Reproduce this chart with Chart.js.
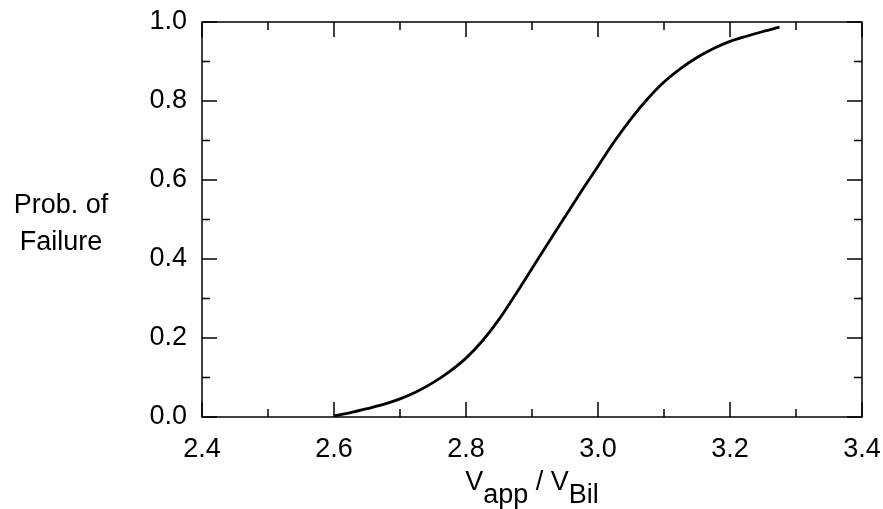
<!DOCTYPE html>
<html>
<head>
<meta charset="utf-8">
<script src="https://cdn.jsdelivr.net/npm/chart.js@4.4.1/dist/chart.umd.min.js"></script>
<style>
  html, body { margin: 0; padding: 0; background: #fff; }
  #wrap { width: 883px; height: 509px; position: relative; }
</style>
</head>
<body>
<div id="wrap"><canvas id="probChart"></canvas></div>
<script>
// curve: V_app / V_Bil vs probability of failure
const ratioX = [2.600, 2.625, 2.650, 2.675, 2.700, 2.725, 2.750, 2.775, 2.800, 2.825, 2.850, 2.875, 2.900, 2.925, 2.950, 2.975,
                3.000, 3.025, 3.050, 3.075, 3.100, 3.125, 3.150, 3.175, 3.200, 3.225, 3.250, 3.275];
const probY  = [0.003, 0.011, 0.021, 0.032, 0.046, 0.064, 0.087, 0.115, 0.149, 0.193, 0.247, 0.310, 0.376, 0.442, 0.507, 0.572,
                0.635, 0.698, 0.755, 0.805, 0.848, 0.882, 0.910, 0.933, 0.951, 0.964, 0.976, 0.987];

const xRange = [2.4, 3.4];
const yRange = [0.0, 1.0];
const yTitleLines = ['Prob. of', 'Failure'];
const FONT = '"Liberation Sans", Arial, Helvetica, sans-serif';
const FSIZE = 27;

// frame, inward ticks on all four sides, and the axis titles
const framePlugin = {
    id: 'frame',
    afterDatasetsDraw(chart) {
        const ctx = chart.ctx;
        const a = chart.chartArea;
        const xs = chart.scales.x, ys = chart.scales.y;
        ctx.save();
        ctx.strokeStyle = '#000';
        ctx.lineWidth = 1.5;
        ctx.strokeRect(a.left, a.top, a.right - a.left, a.bottom - a.top);

        const majLen = 15, minLen = 8;
        ctx.beginPath();
        const xt = xs.ticks.map(t => t.value);
        xt.forEach((v, i) => {
            const px = xs.getPixelForValue(v);
            ctx.moveTo(px, a.bottom); ctx.lineTo(px, a.bottom - majLen);
            ctx.moveTo(px, a.top); ctx.lineTo(px, a.top + majLen);
            if (i < xt.length - 1) {
                const mx = xs.getPixelForValue((v + xt[i + 1]) / 2);
                ctx.moveTo(mx, a.bottom); ctx.lineTo(mx, a.bottom - minLen);
                ctx.moveTo(mx, a.top); ctx.lineTo(mx, a.top + minLen);
            }
        });
        const yt = ys.ticks.map(t => t.value);
        yt.forEach((v, i) => {
            const py = ys.getPixelForValue(v);
            ctx.moveTo(a.left, py); ctx.lineTo(a.left + majLen, py);
            ctx.moveTo(a.right, py); ctx.lineTo(a.right - majLen, py);
            if (i < yt.length - 1) {
                const my = ys.getPixelForValue((v + yt[i + 1]) / 2);
                ctx.moveTo(a.left, my); ctx.lineTo(a.left + minLen, my);
                ctx.moveTo(a.right, my); ctx.lineTo(a.right - minLen, my);
            }
        });
        ctx.stroke();

        // y title, two centred lines
        ctx.fillStyle = '#000';
        ctx.font = FSIZE + 'px ' + FONT;
        ctx.textAlign = 'center';
        ctx.textBaseline = 'alphabetic';
        ctx.fillText(yTitleLines[0], 61, 213);
        ctx.fillText(yTitleLines[1], 61, 250);

        // x title with subscripts: V_app / V_Bil
        const parts = [
            { t: 'V', dy: 0 }, { t: 'app', dy: 13 }, { t: ' / ', dy: 0 },
            { t: 'V', dy: 0 }, { t: 'Bil', dy: 13 }
        ];
        ctx.textAlign = 'left';
        const total = parts.reduce((s, p) => s + ctx.measureText(p.t).width, 0);
        let x = (a.left + a.right) / 2 - total / 2;
        const base = 490;
        parts.forEach(p => {
            ctx.fillText(p.t, x, base + p.dy);
            x += ctx.measureText(p.t).width;
        });
        ctx.restore();
    }
};

new Chart(document.getElementById('probChart'), {
    type: 'line',
    data: {
        datasets: [{
            data: ratioX.map((x, i) => ({ x: x, y: probY[i] })),
            borderColor: '#000',
            borderWidth: 2.8,
            pointRadius: 0,
            fill: false,
            cubicInterpolationMode: 'monotone'
        }]
    },
    options: {
        responsive: true,
        maintainAspectRatio: false,
        animation: false,
        layout: { padding: { top: 22, right: 21, left: 0, bottom: 0 } },
        plugins: { legend: { display: false }, tooltip: { enabled: false } },
        scales: {
            x: {
                type: 'linear',
                min: xRange[0], max: xRange[1],
                grid: { display: false },
                border: { display: false },
                ticks: {
                    stepSize: 0.2,
                    color: '#000',
                    padding: 8,
                    maxRotation: 0,
                    font: { family: FONT, size: FSIZE },
                    callback: v => v.toFixed(1)
                },
                afterFit: scale => {
                    scale.height = 92;
                    scale.paddingLeft = 0;
                    scale.paddingRight = 0;
                }
            },
            y: {
                min: yRange[0], max: yRange[1],
                grid: { display: false },
                border: { display: false },
                ticks: {
                    stepSize: 0.2,
                    color: '#000',
                    padding: 7,
                    font: { family: FONT, size: FSIZE },
                    callback: v => v.toFixed(1)
                },
                afterFit: scale => {
                    scale.width = 202;
                    scale.paddingTop = 0;
                    scale.paddingBottom = 0;
                }
            }
        }
    },
    plugins: [framePlugin]
});
</script>
</body>
</html>
